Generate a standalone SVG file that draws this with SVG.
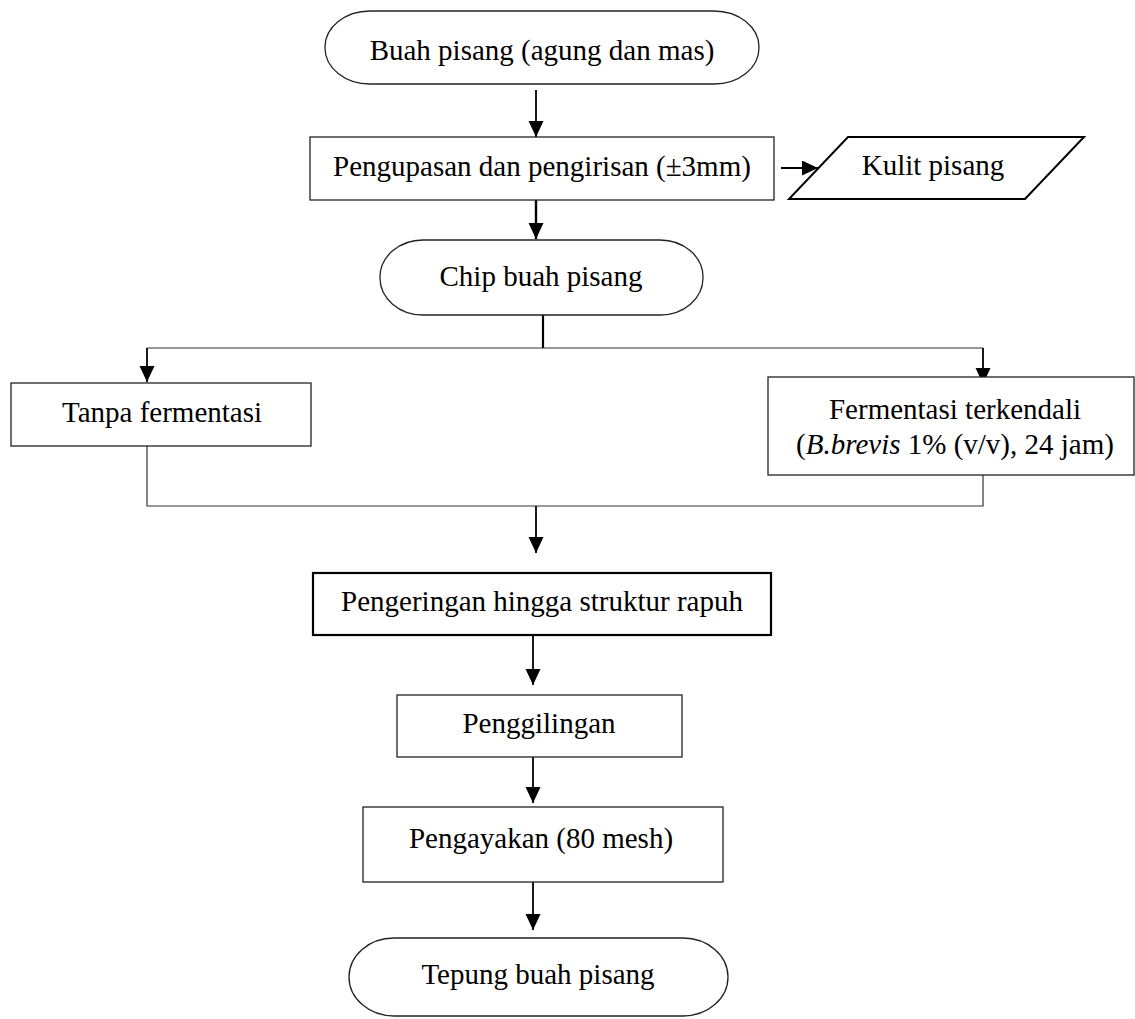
<svg xmlns="http://www.w3.org/2000/svg" width="1135" height="1019" viewBox="0 0 1135 1019">
<style>
.box{fill:#fff;stroke:#222;stroke-width:1.3}
.bold{fill:#fff;stroke:#000;stroke-width:2.2}
.t{font-family:"Liberation Serif","Times New Roman",serif;font-size:29px;fill:#000;text-anchor:middle}
.ln{fill:none;stroke:#000;stroke-width:1.6}
.ar{fill:none;stroke:#000;stroke-width:1.8;marker-end:url(#ah)}
.thin{fill:none;stroke:#333;stroke-width:1.2}
</style>
<defs>
<marker id="ah" markerUnits="userSpaceOnUse" markerWidth="16" markerHeight="16" refX="16" refY="7.5" orient="auto">
<path d="M0,0 L16,7.5 L0,15 z" fill="#000"/>
</marker>
</defs>
<rect width="1135" height="1019" fill="#fff"/>
<g id="connectors">
<line class="ar" x1="536" y1="90" x2="536" y2="137"/>
<line class="ar" x1="536" y1="200" x2="536" y2="239" style="stroke-width:2.4"/>
<line class="ar" x1="781" y1="168" x2="818" y2="168"/>
<line class="ln" x1="543" y1="315" x2="543" y2="348" style="stroke-width:2.2"/>
<line class="thin" x1="147" y1="348" x2="983" y2="348"/>
<line class="ar" x1="147" y1="348" x2="147" y2="382"/>
<line class="ar" x1="983" y1="348" x2="983" y2="384"/>
<polyline class="thin" points="147,446 147,506 983,506 983,475"/>
<line class="ar" x1="536" y1="506" x2="536" y2="553"/>
<line class="ar" x1="533" y1="636" x2="533" y2="685"/>
<line class="ar" x1="533" y1="757" x2="533" y2="803"/>
<line class="ar" x1="533" y1="882" x2="533" y2="930"/>
</g>
<g id="n1">
<rect class="box" x="325" y="11" width="434" height="73" rx="45" ry="36"/>
<text class="t" x="542" y="60">Buah pisang (agung dan mas)</text>
</g>
<g id="n2">
<rect class="box" x="310" y="137" width="464" height="63"/>
<text class="t" x="542" y="176">Pengupasan dan pengirisan (±3mm)</text>
</g>
<g id="n3">
<polygon class="bold" points="848,137 1084,137 1025,199 789,199" style="stroke-width:2"/>
<text class="t" x="933" y="175">Kulit pisang</text>
</g>
<g id="n4">
<rect class="box" x="380" y="240" width="323" height="75" rx="43" ry="37"/>
<text class="t" x="541" y="286">Chip buah pisang</text>
</g>
<g id="n5">
<rect class="box" x="11" y="383" width="300" height="63"/>
<text class="t" x="162" y="422">Tanpa fermentasi</text>
</g>
<g id="n6">
<rect class="box" x="768" y="377" width="366" height="98"/>
<text class="t" x="955" y="419">Fermentasi terkendali</text>
<text class="t" x="955" y="454">(<tspan font-style="italic">B.brevis</tspan> 1% (v/v), 24 jam)</text>
</g>
<g id="n7">
<rect class="bold" x="313" y="573" width="458" height="62"/>
<text class="t" x="542" y="611">Pengeringan hingga struktur rapuh</text>
</g>
<g id="n8">
<rect class="box" x="397" y="695" width="285" height="62"/>
<text class="t" x="539" y="733">Penggilingan</text>
</g>
<g id="n9">
<rect class="box" x="363" y="807" width="360" height="75"/>
<text class="t" x="541" y="848">Pengayakan (80 mesh)</text>
</g>
<g id="n10">
<rect class="box" x="349" y="938" width="379" height="78" rx="45" ry="39"/>
<text class="t" x="538" y="984">Tepung buah pisang</text>
</g>
</svg>
